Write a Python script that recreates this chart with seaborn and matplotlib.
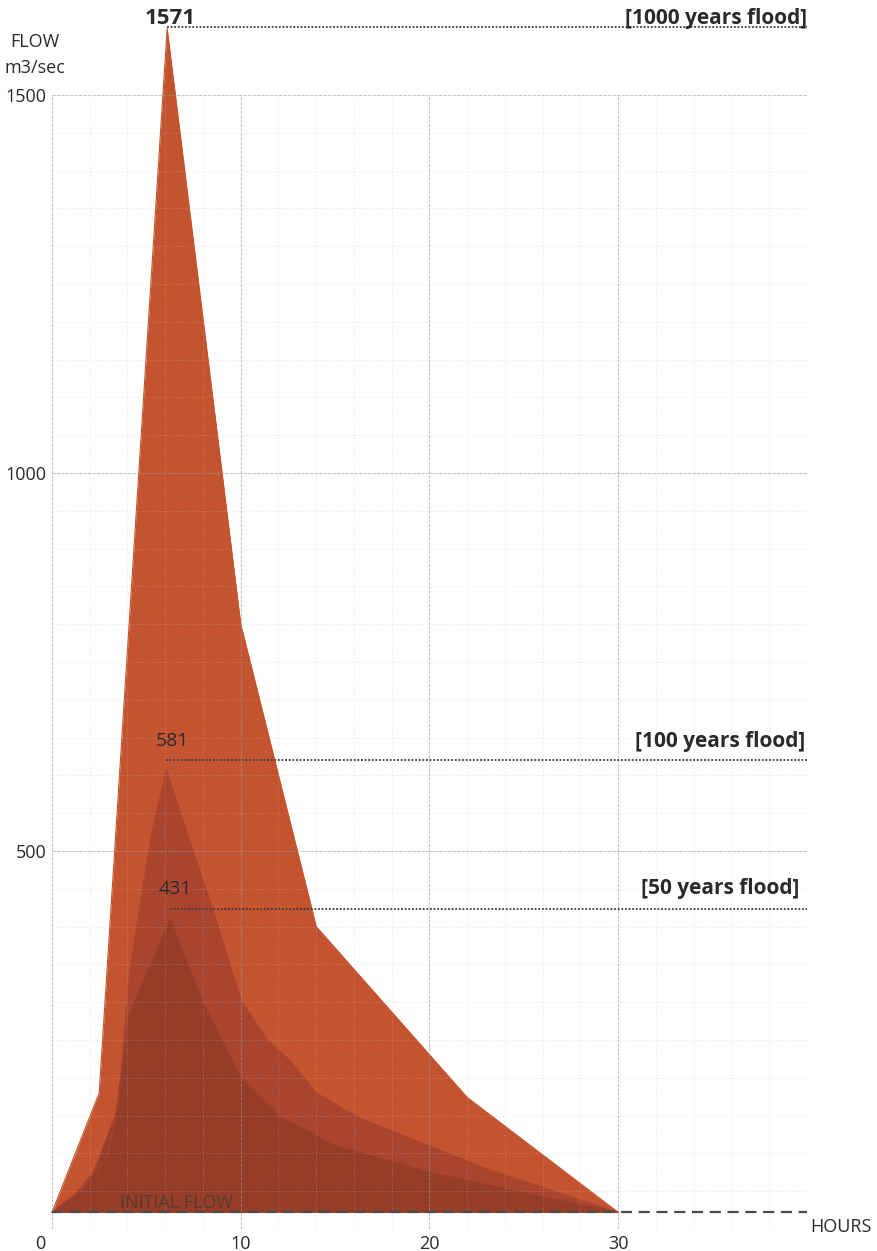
import numpy as np
import pandas as pd
import matplotlib
matplotlib.use("Agg")
import matplotlib.pyplot as plt
from matplotlib.ticker import MultipleLocator
import seaborn as sns

# flood hydrographs (hours, m3/sec)
hours_1000 = [0, 2.5, 6.1, 10, 14, 22, 30]
flow_1000 = [22, 180, 1588, 800, 400, 174, 22]

hours_100 = [0, 1.5, 2.9, 3.5, 4.1, 5.2, 6.05, 7.3, 8.5, 9.3, 10, 11.4, 12.6, 14, 16.2, 18.8, 23.2, 30]
flow_100 = [22, 50, 95, 161, 338, 513, 608, 513, 425, 360, 303, 250, 223, 180, 148, 122, 78, 22]

hours_50 = [0, 1.2, 2.2, 3.4, 4.1, 5.2, 6.25, 8, 10, 12, 15, 20, 25, 30]
flow_50 = [22, 45, 74, 153, 285, 348, 410, 300, 200, 150, 110, 75, 48, 22]

flood_names = ["[1000 years flood]", "[100 years flood]", "[50 years flood]"]
peak_labels = ["1571", "581", "431"]
peak_hours = [6.1, 6.05, 6.25]
flood_levels = [1590, 620, 423]
initial_flow = 22

colors = ["#C4542F", "#A9452F", "#963D2A"]

df = pd.concat([
    pd.DataFrame({"hours": hours_1000, "flow": flow_1000, "flood": "1000"}),
    pd.DataFrame({"hours": hours_100, "flow": flow_100, "flood": "100"}),
    pd.DataFrame({"hours": hours_50, "flow": flow_50, "flood": "50"}),
])

sns.set_theme(style="white")
plt.rcParams["font.family"] = ["Open Sans", "DejaVu Sans"]

fig = plt.figure(figsize=(8.78, 12.51), dpi=100)
ax = fig.add_axes([52 / 878, 22 / 1251, 755 / 878, 1134 / 1251])

for (name, grp), c in zip(df.groupby("flood", sort=False), colors):
    ax.fill_between(grp["hours"], initial_flow, grp["flow"], color=c, lw=0,
                    zorder=1, clip_on=False)
sns.lineplot(data=df, x="hours", y="flow", hue="flood", palette=colors,
             sort=False, estimator=None, lw=0.8, legend=False, ax=ax,
             zorder=1, clip_on=False)

ax.set_xlim(0, 40)
ax.set_ylim(0, 1500)
ax.set_xticks([0, 10, 20, 30, 40], ["", "10", "20", "30", ""])
ax.set_yticks([0, 500, 1000, 1500], ["", "500", "1000", "1500"])
ax.xaxis.set_minor_locator(MultipleLocator(2))
ax.yaxis.set_minor_locator(MultipleLocator(50))
ax.tick_params(which="both", length=0, labelsize=13, colors="#2a2a2a", pad=4)
# the zero label sits a little left of the axis in the original
ax.annotate("0", xy=(0, 0), xycoords=("data", "axes fraction"),
            xytext=(-8.5, -4), textcoords="offset points", ha="center",
            va="top", fontsize=13, color="#2a2a2a", annotation_clip=False)
ax.set_axisbelow(False)
ax.grid(which="major", color="#9a9a9a", lw=0.8, alpha=0.55, ls=(0, (3, 1)))
ax.grid(which="minor", color="#c4c4c4", lw=0.6, alpha=0.3, ls=(0, (2, 2)))
for s in ax.spines.values():
    s.set_visible(False)
ax.set_xlabel("")
ax.set_ylabel("")

# flood level markers
for name, lab, px, lvl in zip(flood_names, peak_labels, peak_hours, flood_levels):
    ax.plot([px, 40], [lvl, lvl], color="#3a3a3a", lw=1.3, ls=(0, (1, 1)),
            clip_on=False, zorder=3)
ax.text(6.25, 1594, peak_labels[0], ha="center", va="baseline", fontsize=16,
        fontweight="bold", color="#2a2a2a", clip_on=False)
ax.text(40, 1594, flood_names[0], ha="right", va="baseline", fontsize=15,
        fontweight="bold", color="#2a2a2a", clip_on=False)
ax.text(6.36, 645, peak_labels[1], ha="center", va="center", fontsize=14,
        color="#2a2a2a")
ax.text(39.9, 645, flood_names[1], ha="right", va="center", fontsize=15,
        fontweight="bold", color="#2a2a2a")
ax.text(6.55, 450, peak_labels[2], ha="center", va="center", fontsize=14,
        color="#2a2a2a")
ax.text(39.6, 450, flood_names[2], ha="right", va="center", fontsize=15,
        fontweight="bold", color="#2a2a2a")

# initial flow
ax.plot([0, 40], [initial_flow, initial_flow], color="#4a4a4a", lw=1.6,
        ls=(0, (5, 3)), zorder=3)
ax.text(3.6, 35, "INITIAL FLOW", ha="left", va="center", fontsize=13,
        color="#3a3a2a", alpha=0.7, zorder=4)

fig.text(35 / 878, 1 - 42 / 1251, "FLOW", ha="center", va="center",
         fontsize=13, color="#2a2a2a")
fig.text(35 / 878, 1 - 68 / 1251, "m3/sec", ha="center", va="center",
         fontsize=13, color="#2a2a2a")
fig.text(841 / 878, 1 - 1227 / 1251, "HOURS", ha="center", va="center",
         fontsize=13, color="#2a2a2a")

fig.savefig("out.png", dpi=100)
